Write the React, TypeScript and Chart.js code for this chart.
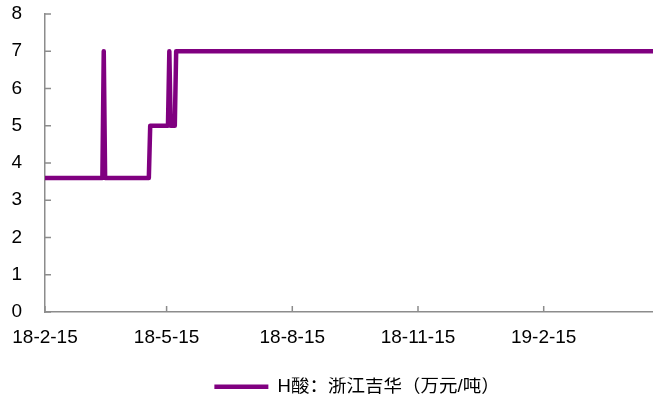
import React, { useEffect, useRef } from 'react';
import { Chart, registerables } from 'chart.js';

Chart.register(...registerables);

const START_DATE = '2018-02-15';
const END_DATE = '2019-05-06';
const changeDates = [
  '2018-02-15', '2018-03-29', '2018-03-30', '2018-03-31',
  '2018-05-02', '2018-05-03', '2018-05-16', '2018-05-17',
  '2018-05-18', '2018-05-21', '2018-05-22', '2019-05-06',
];
const prices = [3.6, 3.6, 7, 3.6, 3.6, 5, 5, 7, 5, 5, 7, 7];
const tickDates = ['2018-02-15', '2018-05-15', '2018-08-15', '2018-11-15', '2019-02-15'];
const tickLabels = ['18-2-15', '18-5-15', '18-8-15', '18-11-15', '19-2-15'];
const seriesLabel = 'H酸：浙江吉华（万元/吨）';
const Y_MIN = 0;
const Y_MAX = 8;

const dayIndex = (d: string) =>
  Math.round((Date.parse(d + 'T00:00:00Z') - Date.parse(START_DATE + 'T00:00:00Z')) / 86400000);

const FONT = '"Liberation Sans", Arial, "Noto Sans CJK SC", sans-serif';
const AXIS_COLOR = '#8c8c8c';
const LINE_COLOR = '#800080';

const innerTicks = {
  id: 'innerTicks',
  afterDraw(chart: any) {
    const { ctx, chartArea, scales } = chart;
    ctx.save();
    ctx.strokeStyle = AXIS_COLOR;
    ctx.lineWidth = 1.5;
    ctx.beginPath();
    scales.x.ticks.forEach((t: any) => {
      const px = scales.x.getPixelForValue(t.value);
      ctx.moveTo(px, chartArea.bottom);
      ctx.lineTo(px, chartArea.bottom - 6);
    });
    scales.y.ticks.forEach((t: any) => {
      const py = scales.y.getPixelForValue(t.value);
      ctx.moveTo(chartArea.left, py);
      ctx.lineTo(chartArea.left + 6, py);
    });
    ctx.stroke();
    ctx.restore();
  },
};

const legendShift = {
  id: 'legendShift',
  afterLayout(chart: any) {
    const lg = chart.legend;
    if (!lg) return;
    lg.top += 12;
    lg.bottom += 12;
    lg.left += 8;
    lg.right += 8;
  },
};

export default function App() {
  const ref = useRef<HTMLCanvasElement>(null);
  useEffect(() => {
    document.body.style.margin = '0';
    const points = changeDates.map((d, i) => ({ x: dayIndex(d), y: prices[i] }));
    const tickValues = tickDates.map(dayIndex);
    const chart = new Chart(ref.current!, {
      type: 'line',
      data: {
        datasets: [
          {
            label: seriesLabel,
            data: points,
            borderColor: LINE_COLOR,
            backgroundColor: LINE_COLOR,
            borderWidth: 4.5,
            pointRadius: 0,
            tension: 0,
            borderJoinStyle: 'round',
            borderCapStyle: 'round',
            pointStyle: 'line',
          },
        ],
      },
      options: {
        responsive: false,
        animation: false,
        layout: { padding: { left: 0, right: 0, top: 14, bottom: 0 } },
        plugins: {
          tooltip: { enabled: false },
          legend: {
            position: 'bottom',
            fullSize: false,
            labels: {
              usePointStyle: true,
              pointStyleWidth: 54,
              color: '#000',
              font: { family: FONT, size: 18.5 },
              padding: 0,
            },
          },
        },
        scales: {
          x: {
            type: 'linear',
            min: 0,
            max: dayIndex(END_DATE),
            grid: { display: false, drawTicks: false },
            border: { display: true, color: AXIS_COLOR, width: 1.5 },
            afterBuildTicks: (scale: any) => {
              scale.ticks = tickValues.map((v) => ({ value: v }));
            },
            afterFit: (scale: any) => {
              scale.height = 53.5;
              scale.paddingLeft = 0;
              scale.paddingRight = 0;
            },
            ticks: {
              autoSkip: false,
              maxRotation: 0,
              padding: 14,
              color: '#000',
              font: { family: FONT, size: 19 },
              callback: (v: any) => {
                const i = tickValues.indexOf(Number(v));
                return i >= 0 ? tickLabels[i] : '';
              },
            },
          },
          y: {
            min: Y_MIN,
            max: Y_MAX,
            grid: { display: false, drawTicks: false },
            border: { display: true, color: AXIS_COLOR, width: 1.5 },
            afterFit: (scale: any) => {
              scale.width = 45;
              scale.paddingTop = 0;
              scale.paddingBottom = 0;
            },
            ticks: {
              stepSize: 1,
              padding: 23,
              color: '#000',
              font: { family: FONT, size: 19 },
            },
          },
        },
      },
      plugins: [innerTicks, legendShift],
    });
    return () => chart.destroy();
  }, []);
  return (
    <div style={{ width: 653, height: 394 }}>
      <canvas ref={ref} width={653} height={394} />
    </div>
  );
}
